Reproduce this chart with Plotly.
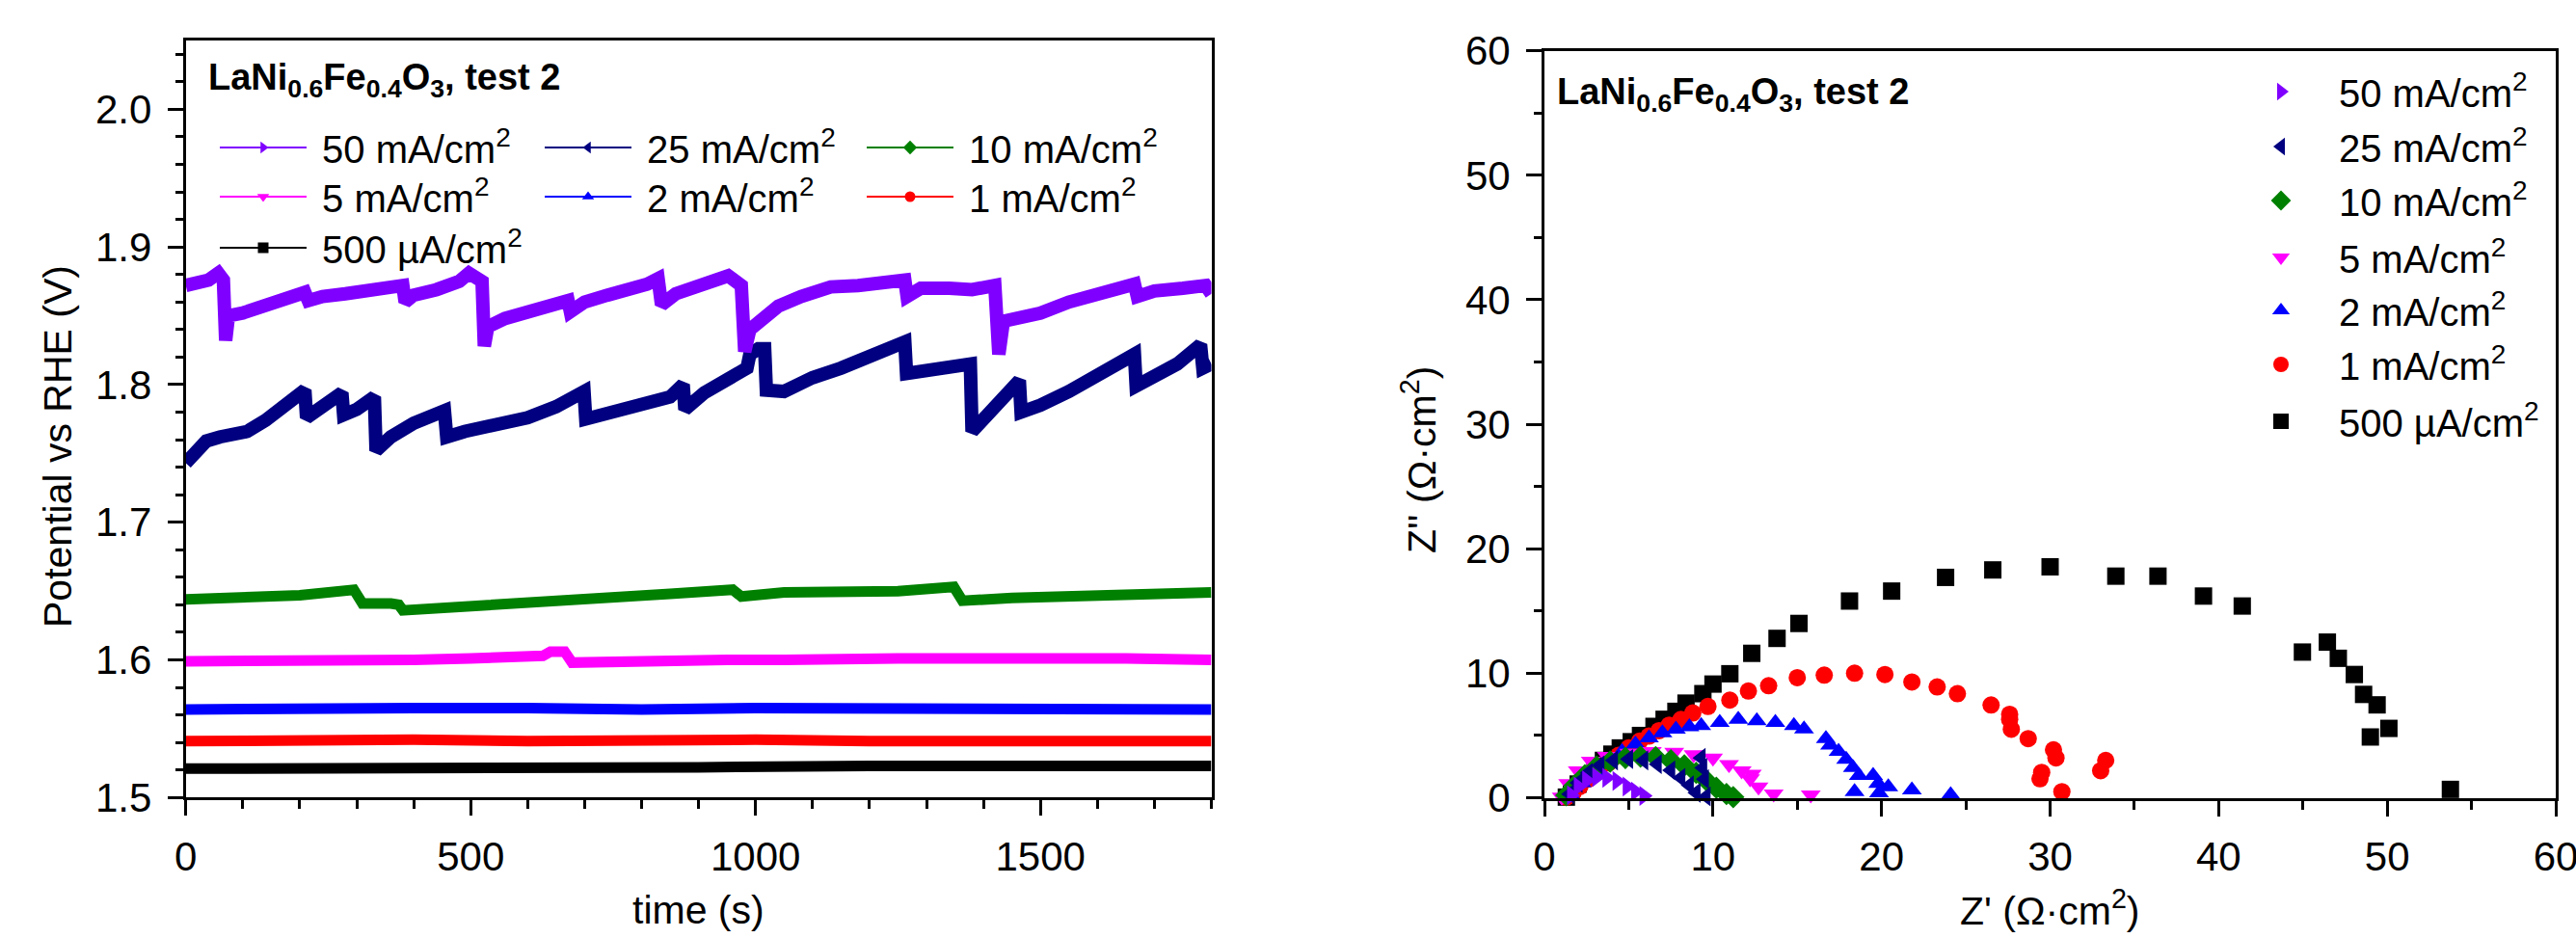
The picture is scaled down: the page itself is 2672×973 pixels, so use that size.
import plotly.graph_objects as go

# ---------------- series meta ----------------
labels = ["50 mA/cm<sup>2</sup>", "25 mA/cm<sup>2</sup>", "10 mA/cm<sup>2</sup>",
          "5 mA/cm<sup>2</sup>", "2 mA/cm<sup>2</sup>", "1 mA/cm<sup>2</sup>",
          "500 µA/cm<sup>2</sup>"]
colors = ["#8000ff", "#000080", "#008000", "#ff00ff", "#0000ff", "#ff0000", "#000000"]
symbols = ["triangle-right", "triangle-left", "diamond", "triangle-down",
           "triangle-up", "circle", "square"]

# ---------------- left panel: potential vs time ----------------
t50 = [0, 20, 40, 57, 66, 70, 75, 100, 130, 160, 190, 209, 215, 240, 280, 320, 360, 381, 385,
       400, 440, 480, 497, 510, 520, 524, 530, 560, 600, 640, 671, 675, 700, 740, 780, 810,
       829, 835, 860, 900, 952, 975, 981, 990, 1010, 1040, 1080, 1132, 1180, 1230, 1262,
       1266, 1290, 1340, 1380, 1420, 1427, 1435, 1460, 1500, 1550, 1600, 1640, 1665, 1670,
       1700, 1750, 1790, 1800]
v50 = [1.872, 1.874, 1.876, 1.881, 1.876, 1.832, 1.850, 1.852, 1.856, 1.860, 1.863, 1.867,
       1.861, 1.864, 1.866, 1.868, 1.870, 1.872, 1.860, 1.865, 1.869, 1.875, 1.881, 1.877,
       1.875, 1.828, 1.842, 1.848, 1.853, 1.858, 1.861, 1.853, 1.860, 1.865, 1.869, 1.873,
       1.877, 1.858, 1.866, 1.872, 1.879, 1.872, 1.824, 1.840, 1.848, 1.857, 1.864, 1.871,
       1.872, 1.874, 1.876, 1.864, 1.870, 1.870, 1.869, 1.872, 1.822, 1.846, 1.848, 1.852,
       1.860, 1.866, 1.870, 1.873, 1.864, 1.868, 1.870, 1.872, 1.866]

t25 = [0, 20, 36, 60, 108, 140, 170, 190, 209, 212, 240, 274, 277, 300, 331, 334, 360, 400,
       454, 458, 490, 540, 600, 650, 699, 702, 740, 800, 850, 873, 876, 910, 950, 985, 990,
       1005, 1016, 1019, 1050, 1100, 1150, 1200, 1262, 1265, 1300, 1340, 1377, 1380, 1410,
       1440, 1463, 1466, 1500, 1550, 1600, 1640, 1665, 1668, 1700, 1740, 1781, 1785, 1800]
v25 = [1.743, 1.752, 1.759, 1.762, 1.766, 1.774, 1.783, 1.789, 1.796, 1.776, 1.785, 1.794,
       1.778, 1.782, 1.791, 1.752, 1.762, 1.772, 1.781, 1.762, 1.766, 1.770, 1.776, 1.784,
       1.795, 1.775, 1.779, 1.785, 1.791, 1.800, 1.782, 1.794, 1.804, 1.812, 1.822, 1.826,
       1.826, 1.796, 1.795, 1.805, 1.812, 1.820, 1.831, 1.808, 1.810, 1.811, 1.815, 1.766,
       1.780, 1.793, 1.803, 1.780, 1.785, 1.795, 1.806, 1.815, 1.822, 1.799, 1.805, 1.815,
       1.829, 1.812, 1.815]

t10 = [0, 100, 200, 295, 310, 360, 374, 381, 450, 550, 650, 750, 850, 960, 975, 1050, 1150,
       1250, 1348, 1363, 1450, 1550, 1650, 1800]
v10 = [1.644, 1.646, 1.647, 1.651, 1.641, 1.641, 1.640, 1.636, 1.638, 1.641, 1.644, 1.646,
       1.648, 1.651, 1.646, 1.649, 1.650, 1.650, 1.653, 1.643, 1.645, 1.646, 1.646, 1.649]

t5 = [0, 100, 200, 300, 400, 500, 600, 627, 640, 665, 678, 750, 850, 950, 1050, 1150, 1250,
      1350, 1450, 1550, 1650, 1800]
v5 = [1.599, 1.599, 1.600, 1.600, 1.600, 1.601, 1.602, 1.603, 1.606, 1.606, 1.598, 1.599,
      1.599, 1.600, 1.600, 1.601, 1.601, 1.601, 1.601, 1.602, 1.601, 1.600]

t2 = [0, 200, 400, 600, 800, 1000, 1200, 1400, 1600, 1800]
v2 = [1.564, 1.565, 1.565, 1.565, 1.564, 1.565, 1.565, 1.564, 1.564, 1.564]

t1 = [0, 200, 400, 600, 800, 1000, 1200, 1400, 1600, 1800]
v1 = [1.541, 1.542, 1.542, 1.541, 1.542, 1.542, 1.541, 1.541, 1.541, 1.541]

t05 = [0, 300, 600, 900, 1200, 1500, 1800]
v05 = [1.521, 1.521, 1.522, 1.522, 1.523, 1.523, 1.523]

# ---------------- right panel: Nyquist ----------------
zr50 = [1.6, 2.0, 2.5, 3.1, 3.7, 4.3, 4.9, 5.4, 5.9]
zi50 = [0.2, 0.9, 1.4, 1.65, 1.6, 1.35, 0.9, 0.5, 0.15]

zr25 = [1.5, 2.0, 2.6, 3.3, 4.1, 5.0, 5.9, 6.7, 7.5, 8.1, 8.6, 9.0, 9.3, 9.4, 9.5, 9.6]
zi25 = [0.3, 1.2, 2.0, 2.6, 3.0, 3.1, 3.0, 2.7, 2.2, 1.6, 1.0, 0.4, 3.2, 2.4, 1.5, 0.1]

zr10 = [1.3, 1.8, 2.4, 3.1, 3.9, 4.8, 5.7, 6.6, 7.5, 8.3, 9.0, 9.6, 10.2, 10.8, 11.2]
zi10 = [0.2, 1.0, 1.8, 2.5, 2.9, 3.2, 3.3, 3.25, 3.0, 2.6, 2.0, 1.4, 0.8, 0.3, 0.05]

zr5 = [1.03, 1.41, 1.98, 2.75, 3.7, 5.03, 6.37, 7.7, 8.85, 10.0, 10.95, 11.7, 12.2, 12.3,
       12.7, 13.6, 15.8]
zi5 = [0.05, 1.14, 2.17, 2.94, 3.33, 3.58, 3.72, 3.66, 3.46, 3.2, 2.68, 2.17, 1.52, 1.9,
       0.88, 0.31, 0.23]

zr2 = [1.5, 2.2, 3.0, 3.8, 4.6, 5.4, 6.2, 7.0, 7.8, 8.6, 9.3, 10.4, 11.5, 12.6, 13.7, 14.8,
       15.4, 16.7, 16.95, 17.45, 17.9, 18.3, 18.65, 19.5, 19.8, 20.4, 18.4, 19.85, 21.8, 24.1]
zi2 = [0.3, 1.2, 2.1, 3.0, 3.7, 4.3, 4.8, 5.2, 5.5, 5.7, 5.78, 6.04, 6.29, 6.17, 6.04, 5.78,
       5.52, 4.75, 4.23, 3.72, 3.07, 2.42, 1.78, 1.78, 1.14, 0.88, 0.49, 0.38, 0.62, 0.23]

zr1 = [1.3, 1.7, 2.1, 2.6, 3.2, 3.8, 4.4, 5.0, 5.65, 6.2, 6.8, 7.4, 8.1, 8.8, 9.7, 11.0,
       12.1, 13.3, 15.0, 16.6, 18.4, 20.2, 21.8, 23.3, 24.5, 26.5, 27.6, 27.6, 27.7, 28.7,
       30.2, 30.35, 29.5, 29.4, 30.7, 33.0, 33.3]
zi1 = [0.05, 0.4, 0.9, 1.5, 2.1, 2.8, 3.4, 4.0, 4.54, 4.95, 5.39, 5.83, 6.29, 6.81, 7.33,
       7.84, 8.57, 9.0, 9.65, 9.85, 10.0, 9.9, 9.3, 8.9, 8.36, 7.45, 6.7, 6.3, 5.5, 4.75,
       3.85, 3.2, 2.04, 1.52, 0.49, 2.17, 3.0]

zr05 = [1.3, 1.6, 2.0, 2.5, 3.0, 3.5, 4.0, 4.5, 5.15, 5.7, 6.5, 7.1, 7.8, 8.4, 9.4, 10.0,
        11.0, 12.3, 13.8, 15.1, 18.1, 20.6, 23.8, 26.6, 30.0, 33.9, 36.4, 39.1, 41.4, 44.97,
        46.45, 47.1, 48.05, 48.6, 49.4, 50.1, 49.0, 53.75]
zi05 = [0.05, 0.5, 1.1, 1.8, 2.4, 3.0, 3.5, 4.0, 4.5, 5.0, 5.73, 6.3, 6.94, 7.6, 8.36, 9.13,
        9.96, 11.6, 12.8, 14.0, 15.8, 16.6, 17.7, 18.3, 18.55, 17.8, 17.8, 16.2, 15.4, 11.7,
        12.5, 11.2, 9.9, 8.3, 7.46, 5.57, 4.88, 0.67]

time_series = [(t50, v50), (t25, v25), (t10, v10), (t5, v5), (t2, v2), (t1, v1), (t05, v05)]
nyquist = [(zr50, zi50), (zr25, zi25), (zr10, zi10), (zr5, zi5), (zr2, zi2), (zr1, zi1),
           (zr05, zi05)]

W, H = 2672, 973
FONT = "Arial, Liberation Sans, sans-serif"

def px(x):
    return x / W

def py(y):
    return (H - y) / H

fig = go.Figure()

# left data (bands), drawn bottom series first
for i in reversed(range(7)):
    t, v = time_series[i]
    fig.add_trace(go.Scatter(x=t, y=v, mode="lines", showlegend=False,
                             line=dict(color=colors[i], width=14 if i < 2 else 11),
                             xaxis="x", yaxis="y", hoverinfo="skip"))

# left legend entries (thin line + marker), one legend per entry
left_cols = [233, 570, 904]
left_rows = [153, 204, 257]
for i in range(7):
    lg = "legend" if i == 0 else f"legend{i + 1}"
    fig.add_trace(go.Scatter(x=[None], y=[None], mode="lines+markers", name=" " + labels[i],
                             line=dict(color=colors[i], width=2),
                             marker=dict(symbol=symbols[i], size=11, color=colors[i]),
                             xaxis="x", yaxis="y", legend=lg))

# right data (markers)
for i in reversed(range(7)):
    zr, zi = nyquist[i]
    lg = f"legend{i + 8}"
    fig.add_trace(go.Scatter(x=zr, y=zi, mode="markers", name=labels[i],
                             marker=dict(symbol=symbols[i], size=18, color=colors[i],
                                         line=dict(width=0)),
                             cliponaxis=False, xaxis="x2", yaxis="y2", legend=lg))

legend_layout = {}
for i in range(7):
    key = "legend" if i == 0 else f"legend{i + 1}"
    col = left_cols[i % 3]
    row = left_rows[i // 3]
    legend_layout[key] = dict(x=px(col - 10), y=py(row), xanchor="left", yanchor="middle",
                              bgcolor="rgba(0,0,0,0)", itemwidth=90,
                              font=dict(family=FONT, size=40, color="black"))
right_rows = [95, 152, 208, 267, 322, 378, 437]
for i in range(7):
    key = f"legend{i + 8}"
    legend_layout[key] = dict(x=px(2371 - 65), y=py(right_rows[i]), xanchor="left",
                              yanchor="middle", bgcolor="rgba(0,0,0,0)", itemwidth=110,
                              font=dict(family=FONT, size=40, color="black"))

axis_common = dict(showline=True, linecolor="black", linewidth=3, mirror=True,
                   ticks="outside", ticklen=16, tickwidth=3, tickcolor="black",
                   showgrid=False, zeroline=False,
                   tickfont=dict(family=FONT, size=42, color="black"))

fig.update_layout(
    width=W, height=H,
    margin=dict(l=0, r=0, t=0, b=0, autoexpand=False),
    paper_bgcolor="white", plot_bgcolor="white",
    xaxis=dict(domain=[px(192.7), px(1256.5)], range=[0, 1800], tick0=0, dtick=500,
               minor=dict(dtick=100, ticklen=9, tickwidth=3, tickcolor="black", ticks="outside"),
               ticklabelstandoff=6, anchor="y", **axis_common),
    yaxis=dict(domain=[py(827.3), py(42)], range=[1.5, 2.05], tick0=1.5, dtick=0.1,
               tickformat=".1f",
               minor=dict(dtick=0.02, ticklen=8, tickwidth=3, tickcolor="black", ticks="outside"),
               ticklabelstandoff=8, anchor="x", **axis_common),
    xaxis2=dict(domain=[px(1602), px(2651)], range=[0, 60], tick0=0, dtick=10,
                minor=dict(dtick=5, ticklen=9, tickwidth=3, tickcolor="black", ticks="outside"),
                ticklabelstandoff=6, ticklabeloverflow="allow", anchor="y2", **axis_common),
    yaxis2=dict(domain=[py(827.5), py(52.7)], range=[0, 60], tick0=0, dtick=10,
                minor=dict(dtick=5, ticklen=8, tickwidth=3, tickcolor="black", ticks="outside"),
                ticklabelstandoff=8, anchor="x2", **axis_common),
    **legend_layout,
)

title_txt = "<b>LaNi<sub>0.6</sub>Fe<sub>0.4</sub>O<sub>3</sub>, test 2</b>"
annotations = [
    dict(text=title_txt, x=px(214), y=py(57), xanchor="left", yanchor="top",
         font=dict(family=FONT, size=38, color="black")),
    dict(text=title_txt, x=px(1613), y=py(72), xanchor="left", yanchor="top",
         font=dict(family=FONT, size=38, color="black")),
    dict(text="time (s)", x=px(724), y=py(944), xanchor="center", yanchor="middle",
         font=dict(family=FONT, size=41, color="black")),
    dict(text="Potential vs RHE (V)", x=px(60), y=py(463), xanchor="center", yanchor="middle",
         textangle=-90, font=dict(family=FONT, size=41, color="black")),
    dict(text="Z' (Ω·cm<sup>2</sup>)", x=px(2126), y=py(942), xanchor="center",
         yanchor="middle", font=dict(family=FONT, size=41, color="black")),
    dict(text="Z'' (Ω·cm<sup>2</sup>)", x=px(1472), y=py(477), xanchor="center",
         yanchor="middle", textangle=-90, font=dict(family=FONT, size=41, color="black")),
]
for a in annotations:
    a.update(xref="paper", yref="paper", showarrow=False)
fig.update_layout(annotations=annotations)

fig.write_html("out.html", config={"displayModeBar": False},
               post_script="document.body.style.margin='0';")
